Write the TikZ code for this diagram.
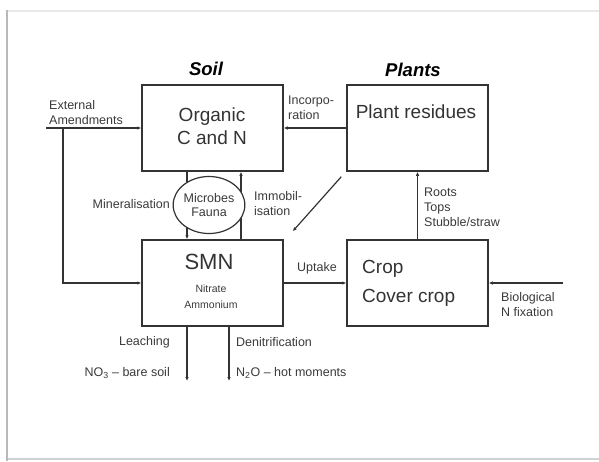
\documentclass[tikz,border=0pt]{standalone}
\usepackage{fontspec}
\setmainfont{Liberation Sans}
\usetikzlibrary{arrows.meta, positioning, shapes.geometric}
\definecolor{ink}{HTML}{333333}
\definecolor{txt}{HTML}{3a3a3a}

\begin{document}
\begin{tikzpicture}[
    x=1pt, y=-1pt,
    box/.style={draw=ink, line width=1.5pt, minimum width=141pt, minimum height=86pt, inner sep=0pt},
    big/.style={font=\fontsize{19}{23}\selectfont, text=ink, align=center, inner sep=0pt},
    head/.style={font=\fontsize{18.5}{22}\selectfont\bfseries\itshape, text=black, inner sep=0pt},
    lbl/.style={font=\fontsize{12.5}{15}\selectfont, text=txt, align=left, inner sep=0pt},
    small/.style={font=\fontsize{10.5}{16}\selectfont, text=txt, align=center, inner sep=0pt},
    arrow/.style={draw=ink, line width=1.2pt, -{Latex[length=4pt,width=3.5pt]}},
    frame/.style={line width=2pt}
  ]
  \useasboundingbox (0,0) rectangle (599,461);

  % Slide frame
  \draw[frame, gray!18] (7,10.5) -- (599,10.5);
  \draw[frame, gray!35] (7,459) -- (599,459);
  \draw[frame, gray!55] (6.5,10) -- (6.5,461);

  % Headings
  \node[head] (soil) at (206,69) {Soil};
  \node[head] (plants) at (413,70) {Plants};

  % Boxes
  \node[box] (org) at (212.5,128) {};
  \node[box] (res) at (417.5,128) {};
  \node[box] (smn) at (212.5,283) {};
  \node[box] (crop) at (417.5,283) {};

  % Box texts
  \node[big] (orgtxt) at (212,126) {Organic\\C and N};
  \node[big] (restxt) at (416,112) {Plant residues};
  \node[big, font=\fontsize{22}{26}\selectfont] (smntxt) at (209,262) {SMN};
  \node[small] (smnsub) at (211,297) {Nitrate\\Ammonium};
  \node[big, align=left, anchor=west, font=\fontsize{19}{29}\selectfont] (croptxt) at (362,283.5) {Crop\\Cover crop};

  % Free ends
  \coordinate (ext) at (46,128);
  \coordinate (extdown) at (63,128);
  \coordinate (bnf) at (563,283);
  \coordinate (leachend) at (187,381);
  \coordinate (denitend) at (229,381);

  % Arrows
  \draw[arrow] (ext) -- (org.west);
  \draw[arrow] (extdown) |- (smn.west);
  \draw[arrow] (res.west) -- (org.east);
  \draw[arrow] ([xshift=-25.5pt]org.south) -- ([xshift=-25.5pt]smn.north);
  \draw[arrow] ([xshift=28.5pt]smn.north) -- ([xshift=28.5pt]org.south);
  \draw[arrow] ([shift={(-5,5)}]res.south west) -- ([shift={(9,-8)}]smn.north east);
  \draw[arrow] (crop.north) -- (res.south);
  \draw[arrow] (smn.east) -- (crop.west);
  \draw[arrow] (bnf) -- (crop.east);
  \draw[arrow] ([xshift=-25.5pt]smn.south) -- (leachend);
  \draw[arrow] ([xshift=16.5pt]smn.south) -- (denitend);

  % Microbes
  \node[ellipse, draw=ink, line width=1.2pt, fill=white, minimum width=71pt, minimum height=57pt, inner sep=0pt,
        font=\fontsize{12.5}{14.5}\selectfont, text=txt, align=center] (mic) at (209,205) {Microbes\\Fauna};

  % Labels
  \node[lbl, anchor=west] (extlbl) at (49,112.5) {External\\Amendments};
  \node[lbl, anchor=west] (inclbl) at (288,107.5) {Incorpo-\\ration};
  \node[lbl, anchor=east] (minlbl) at (170,204) {Mineralisation};
  \node[lbl, anchor=west] (immlbl) at (254,204) {Immobil-\\isation};
  \node[lbl, anchor=west] (rootlbl) at (424,207) {Roots\\Tops\\Stubble/straw};
  \node[lbl] (uplbl) at (317,268) {Uptake};
  \node[lbl, anchor=west] (bnflbl) at (501,304.5) {Biological\\N fixation};
  \node[lbl, anchor=east] (leachlbl) at (170,342) {Leaching};
  \node[lbl, anchor=east] (no3lbl) at (170,373) {NO\textsubscript{3} -- bare soil};
  \node[lbl, anchor=west] (denitlbl) at (236,342) {Denitrification};
  \node[lbl, anchor=west] (n2olbl) at (236,373) {N\textsubscript{2}O -- hot moments};

\end{tikzpicture}
\end{document}
